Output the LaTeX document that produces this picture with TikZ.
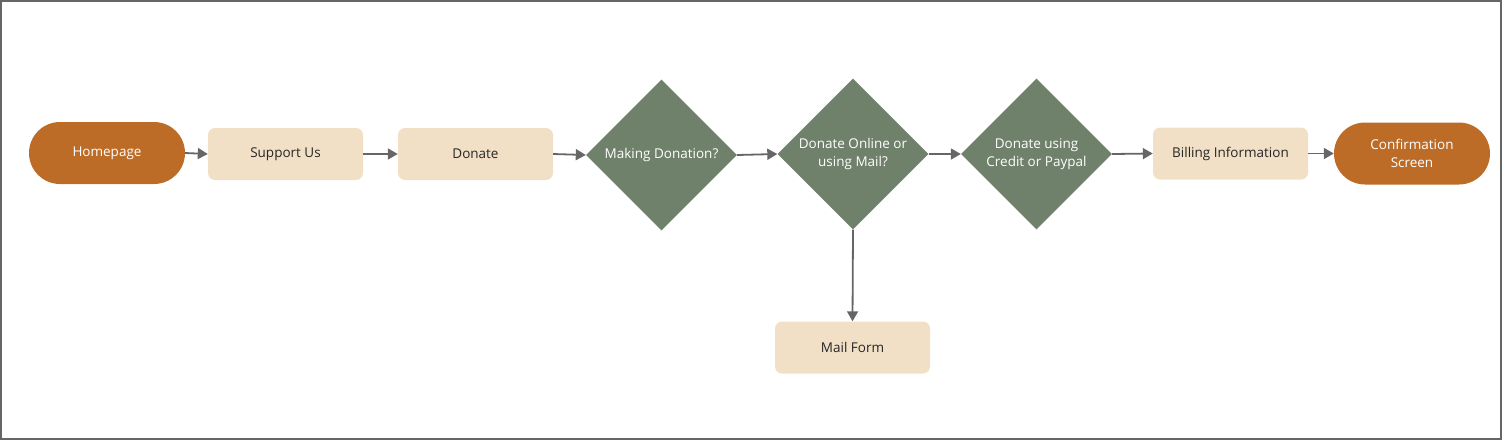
\documentclass[tikz,border=0pt]{standalone}
\usepackage{fontspec}
\setmainfont{Open Sans}
\usetikzlibrary{shapes.geometric,shapes.misc,arrows.meta}
\definecolor{rust}{HTML}{BC6C27}
\definecolor{sand}{HTML}{F2E0C6}
\definecolor{sage}{HTML}{6F806B}
\definecolor{linegray}{HTML}{666666}
\begin{document}
\begin{tikzpicture}
  [x=1pt,y=-1pt,
   every node/.style={font=\fontsize{13.5}{18}\selectfont,align=center,inner sep=0pt},
   term/.style={rounded rectangle,fill=rust,text=white,minimum width=156,minimum height=62},
   page/.style={rectangle,rounded corners=7,fill=sand,text=black!85,minimum width=155,minimum height=52},
   ask/.style={diamond,fill=sage,text=white,minimum width=151,minimum height=151},
   flow/.style={draw=linegray,line width=1.8pt,-{Triangle[length=10pt,width=11pt]}}]
  \useasboundingbox (0,0) rectangle (1502,440);
  \draw[linegray,line width=2pt] (1,1) rectangle (1501,439);

  \node (n1)[term] at (107,153) {Homepage};
  \node (n2)[page] at (285.5,154) {Support Us};
  \node (n3)[page] at (475.5,154) {Donate};
  \node (n4)[ask] at (661.5,155) {Making Donation?};
  \node (n5)[ask] at (853,154) {Donate Online or\\using Mail?};
  \node (n6)[ask] at (1036.5,154) {Donate using\\Credit or Paypal};
  \node (n7)[page] at (1230.5,153.5) {Billing Information};
  \node (n8)[term] at (1412,153.5) {Confirmation\\Screen};
  \node (n9)[page] at (852.5,347.5) {Mail Form};

  \foreach \from/\to in {n1/n2,n2/n3,n3/n4,n4/n5,n5/n6,n6/n7,n7/n8}
    \draw[flow] (\from.east) -- (\to.west);
  \draw[flow] (n5.south) -- (n9.north);

\end{tikzpicture}
\end{document}
